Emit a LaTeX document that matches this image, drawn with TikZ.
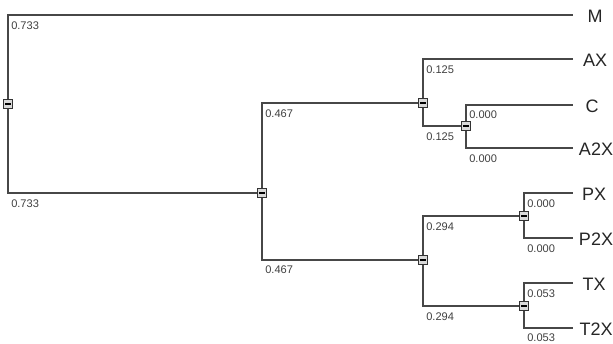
\documentclass[tikz,border=0pt]{standalone}
\usepackage{fontspec}
\setmainfont{Liberation Sans}
\usetikzlibrary{backgrounds}
\begin{document}
\begin{tikzpicture}[x=0.75pt,y=-0.75pt,
  br/.style={draw=black!72, line width=0.8pt},
  nbox/.style={draw=black!80, fill=black!15, line width=0.65pt, minimum width=6.2pt, minimum height=7pt, inner sep=0pt,
    path picture={\fill[black] ([xshift=-1.9pt,yshift=-0.8pt]path picture bounding box.center) rectangle ([xshift=1.9pt,yshift=0.8pt]path picture bounding box.center);}},
  val/.style={anchor=west, inner sep=0pt, font=\fontsize{8.3}{9}\selectfont, text=black!75},
  leaf/.style={anchor=center, inner sep=0pt, font=\fontsize{13.5}{15}\selectfont, text=black!85}]
\useasboundingbox (0,0) rectangle (613,343);

% internal nodes
\node[nbox] (n0) at (8,104) {};
\node[nbox] (n1) at (262,193) {};
\node[nbox] (n2) at (423,103) {};
\node[nbox] (n3) at (466,126) {};
\node[nbox] (n4) at (423,260) {};
\node[nbox] (n5) at (524,216) {};
\node[nbox] (n6) at (524,306) {};

% leaf line ends
\coordinate (eM) at (573,15);
\coordinate (eAX) at (573,59);
\coordinate (eC) at (573,105);
\coordinate (eA2X) at (573,148);
\coordinate (ePX) at (573,193);
\coordinate (eP2X) at (573,238);
\coordinate (eTX) at (573,283);
\coordinate (eT2X) at (573,328);

\begin{scope}[on background layer]
\fill[white] (0,0) rectangle (613,343);
\draw[br] (n0.center) |- (eM);
\draw[br] (n0.center) |- (n1.center);
\draw[br] (n1.center) |- (n2.center);
\draw[br] (n1.center) |- (n4.center);
\draw[br] (n2.center) |- (eAX);
\draw[br] (n2.center) |- (n3.center);
\draw[br] (n3.center) |- (eC);
\draw[br] (n3.center) |- (eA2X);
\draw[br] (n4.center) |- (n5.center);
\draw[br] (n4.center) |- (n6.center);
\draw[br] (n5.center) |- (ePX);
\draw[br] (n5.center) |- (eP2X);
\draw[br] (n6.center) |- (eTX);
\draw[br] (n6.center) |- (eT2X);
\end{scope}

% leaf labels
\node[leaf] (lM) at (595,16) {M};
\node[leaf] (lAX) at (595,60) {AX};
\node[leaf] (lC) at (592,106) {C};
\node[leaf] (lA2X) at (596,149) {A2X};
\node[leaf] (lPX) at (594,194) {PX};
\node[leaf] (lP2X) at (596,239) {P2X};
\node[leaf] (lTX) at (594,284) {TX};
\node[leaf] (lT2X) at (596,329) {T2X};

% branch values
\node[val] (v1) at (11,25.5) {0.733};
\node[val] (v2) at (11,204) {0.733};
\node[val] (v3) at (265,114) {0.467};
\node[val] (v4) at (265,270) {0.467};
\node[val] (v5) at (426,69.5) {0.125};
\node[val] (v6) at (426,137) {0.125};
\node[val] (v7) at (469,115) {0.000};
\node[val] (v8) at (469,159) {0.000};
\node[val] (v9) at (426,227) {0.294};
\node[val] (v10) at (426,316.5) {0.294};
\node[val] (v11) at (527,204) {0.000};
\node[val] (v12) at (527,249) {0.000};
\node[val] (v13) at (527,294) {0.053};
\node[val] (v14) at (527,338) {0.053};
\end{tikzpicture}
\end{document}
